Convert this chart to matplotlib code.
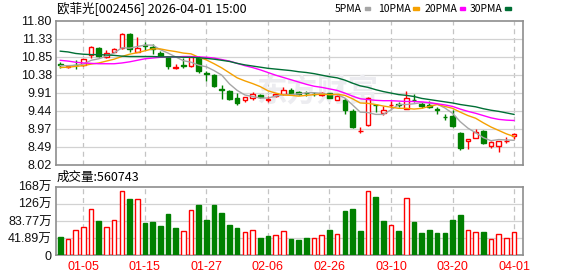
import numpy as np
import matplotlib.pyplot as plt
from matplotlib.patches import Rectangle

# ---- data (60 trading days, 2025-12-29 .. 2026-04-01) ----
open_ = [10.66, 10.58, 10.65, 10.65, 10.89, 11.09, 10.86, 10.98, 11.08, 11.46,
         10.99, 11.17, 11.12, 10.94, 10.84, 10.57, 10.65, 10.60, 10.82, 10.43,
         10.37, 10.00, 9.96, 9.78, 9.72, 9.78, 9.86, 9.73, 9.82, 9.87,
         9.97, 9.92, 9.91, 9.88, 9.84, 9.90, 9.73, 9.71, 9.44, 8.90,
         9.07, 9.60, 9.37, 9.58, 9.61, 9.49, 9.73, 9.62, 9.58, 9.49,
         9.27, 9.31, 8.85, 8.63, 8.72, 8.90, 8.52, 8.52, 8.64, 8.77]
high = [10.71, 10.63, 10.77, 10.80, 11.13, 11.12, 11.02, 11.08, 11.49, 11.47,
        11.36, 11.23, 11.20, 11.00, 10.86, 10.66, 10.82, 10.87, 10.88, 10.48,
        10.40, 10.10, 9.98, 9.90, 9.81, 9.92, 9.87, 9.82, 9.90, 10.06,
        10.04, 9.96, 9.96, 9.93, 9.94, 9.91, 9.85, 9.77, 9.48, 9.02,
        9.79, 9.61, 9.55, 9.70, 9.66, 9.95, 9.88, 9.67, 9.70, 9.54,
        9.35, 9.46, 8.89, 8.70, 8.96, 8.92, 8.63, 8.63, 8.75, 8.86]
low = [10.56, 10.55, 10.54, 10.62, 10.81, 10.86, 10.82, 10.97, 11.07, 10.98,
       10.97, 11.04, 10.92, 10.85, 10.53, 10.53, 10.56, 10.58, 10.44, 10.21,
       10.06, 9.74, 9.72, 9.60, 9.66, 9.71, 9.78, 9.66, 9.80, 9.86,
       9.90, 9.86, 9.83, 9.82, 9.82, 9.76, 9.72, 9.35, 8.98, 8.85,
       9.04, 9.40, 9.33, 9.51, 9.53, 9.48, 9.66, 9.51, 9.51, 9.35,
       9.20, 9.00, 8.40, 8.42, 8.71, 8.56, 8.47, 8.35, 8.58, 8.70]
close = [10.64, 10.62, 10.63, 10.79, 11.10, 10.87, 10.96, 11.05, 11.45, 11.07,
         11.08, 11.13, 11.05, 10.87, 10.62, 10.59, 10.60, 10.86, 10.49, 10.41,
         10.09, 9.98, 9.75, 9.63, 9.80, 9.88, 9.79, 9.74, 9.88, 9.99,
         9.91, 9.87, 9.90, 9.87, 9.90, 9.78, 9.83, 9.46, 9.00, 8.91,
         9.77, 9.58, 9.45, 9.60, 9.59, 9.77, 9.71, 9.57, 9.54, 9.45,
         9.26, 9.03, 8.46, 8.69, 8.88, 8.59, 8.62, 8.63, 8.65, 8.83]

ma5 = [10.62, 10.62, 10.63, 10.66, 10.76, 10.80, 10.87, 10.95, 11.09, 11.08,
       11.12, 11.16, 11.16, 11.04, 10.95, 10.85, 10.75, 10.71, 10.63, 10.59,
       10.49, 10.37, 10.14, 9.97, 9.85, 9.81, 9.77, 9.77, 9.82, 9.86,
       9.86, 9.88, 9.91, 9.91, 9.89, 9.86, 9.86, 9.77, 9.59, 9.40,
       9.39, 9.34, 9.34, 9.46, 9.60, 9.60, 9.62, 9.65, 9.64, 9.61,
       9.51, 9.37, 9.15, 8.98, 8.86, 8.73, 8.65, 8.68, 8.67, 8.66]
ma10 = [10.57, 10.58, 10.60, 10.62, 10.66, 10.69, 10.74, 10.79, 10.86, 10.92,
        10.96, 11.01, 11.06, 11.06, 11.02, 10.99, 10.95, 10.93, 10.84, 10.77,
        10.67, 10.56, 10.43, 10.30, 10.22, 10.15, 10.07, 9.96, 9.90, 9.85,
        9.84, 9.82, 9.84, 9.86, 9.87, 9.86, 9.87, 9.84, 9.75, 9.64,
        9.63, 9.60, 9.56, 9.53, 9.50, 9.50, 9.48, 9.50, 9.55, 9.60,
        9.55, 9.50, 9.40, 9.31, 9.24, 9.12, 9.01, 8.92, 8.83, 8.76]
ma20 = [10.76, 10.74, 10.71, 10.69, 10.68, 10.67, 10.67, 10.67, 10.69, 10.72,
        10.76, 10.80, 10.82, 10.84, 10.85, 10.85, 10.86, 10.86, 10.85, 10.84,
        10.82, 10.78, 10.74, 10.68, 10.62, 10.57, 10.51, 10.44, 10.37, 10.31,
        10.25, 10.19, 10.13, 10.08, 10.05, 10.01, 9.97, 9.90, 9.82, 9.75,
        9.73, 9.71, 9.70, 9.70, 9.69, 9.68, 9.68, 9.67, 9.65, 9.62,
        9.59, 9.55, 9.48, 9.42, 9.37, 9.31, 9.25, 9.21, 9.19, 9.18]
ma30 = [11.00, 10.98, 10.94, 10.92, 10.91, 10.91, 10.90, 10.89, 10.87, 10.86,
        10.86, 10.86, 10.86, 10.85, 10.85, 10.85, 10.84, 10.84, 10.83, 10.81,
        10.79, 10.76, 10.73, 10.68, 10.64, 10.61, 10.58, 10.55, 10.53, 10.51,
        10.49, 10.46, 10.44, 10.41, 10.37, 10.33, 10.30, 10.24, 10.16, 10.09,
        10.05, 9.99, 9.94, 9.90, 9.86, 9.84, 9.81, 9.76, 9.73, 9.70,
        9.67, 9.64, 9.60, 9.57, 9.54, 9.49, 9.45, 9.42, 9.38, 9.34]

# volume in 万 shares, and whether the volume bar is drawn red (1) or green (0)
volume = [44.7, 39.9, 61.8, 68.3, 112.2, 83.8, 68.3, 86.2, 156.2, 137.5,
          136.6, 78.9, 81.3, 71.6, 100.9, 66.7, 59.4, 110.6, 122.8, 86.2,
          122.8, 103.3, 74.0, 66.7, 56.9, 61.8, 42.3, 47.2, 49.6, 59.4,
          39.9, 37.4, 42.3, 42.3, 48.8, 61.8, 52.1, 108.2, 113.1, 59.4,
          156.2, 142.3, 84.6, 73.2, 59.4, 139.1, 82.2, 54.5, 61.8, 54.5,
          54.5, 86.2, 98.4, 61.8, 56.1, 56.9, 39.0, 51.2, 42.3, 56.07]
vol_up = [0, 1, 1, 1, 1, 0, 1, 1, 1, 0, 1, 0, 0, 0, 0, 0, 1, 1, 0, 0,
          0, 0, 0, 0, 1, 1, 0, 0, 1, 1, 0, 0, 0, 1, 1, 0, 1, 0, 0, 0,
          1, 0, 0, 1, 0, 1, 0, 0, 0, 0, 0, 0, 0, 1, 1, 0, 1, 1, 1, 1]

date_tick_idx = [3, 11, 19, 27, 35, 43, 51, 59]
date_tick_labels = ['01-05', '01-15', '01-27', '02-06', '02-26', '03-10', '03-20', '04-01']

price_ticks = [8.02, 8.4925, 8.965, 9.4375, 9.91, 10.3825, 10.855, 11.3275, 11.80]
price_labels = ['8.02', '8.49', '8.97', '9.44', '9.91', '10.38', '10.85', '11.33', '11.80']
vol_ticks = [0, 41.89, 83.78, 125.67, 167.56]
vol_labels = ['0', '41.89万', '83.77万', '126万', '168万']

title = '欧菲光[002456] 2026-04-01 15:00'
vol_title = '成交量:560743'
ma_names = ['5PMA', '10PMA', '20PMA', '30PMA']

# ---- style ----
RED = '#ff0000'
GREEN = '#008000'
MA_COLORS = ['#a6a6a6', '#f5a000', '#ff00ff', '#006f35']
GRID = '#d2d2d2'
FRAME = '#8e8e8e'
CJK = ['Noto Sans CJK SC', 'DejaVu Sans']
NUM = ['Liberation Sans', 'Noto Sans CJK SC']

W, H = 578, 276
fig = plt.figure(figsize=(W / 100, H / 100), dpi=100)


def fx(px):
    return px / W


def fy(py):
    return 1 - py / H


left, right = 56, 522.5
ax = fig.add_axes([fx(left), fy(164.7), (right - left) / W, (164.7 - 20.7) / H])
axv = fig.add_axes([fx(left), fy(255.3), (right - left) / W, (255.3 - 186.7) / H])

x = np.arange(len(close))
o = np.array(open_)
c = np.array(close)
up = c >= o

for a in (ax, axv):
    a.set_xlim(-0.56, 60.1)
    for s in a.spines.values():
        s.set_color(FRAME)
        s.set_linewidth(1.2)
    for t in date_tick_idx:
        a.axvline(t, color='#c4c4c4', ls=(0, (4, 3)), lw=0.9, zorder=0.8)
    a.tick_params(length=0, pad=3)

# ---- price panel ----
ax.set_ylim(8.02, 11.80)
ax.set_yticks(price_ticks)
ax.set_yticklabels(price_labels, fontsize=9, family=NUM, color='#111111')
ax.set_xticks([])
for t in price_ticks[1:-1]:
    ax.axhline(t, color=GRID, lw=0.9, zorder=0.8)

ax.text(0.56, 0.51, '东方财富', transform=ax.transAxes, ha='center', va='center',
        fontsize=22, color='#ececf0', family=CJK, fontweight='bold', zorder=0.9)

bw = 0.6
body_lo = np.minimum(o, c)
body_hi = np.maximum(o, c)
body_h = np.maximum(body_hi - body_lo, 0.008)
# wicks
ax.vlines(x[up], np.array(low)[up], body_lo[up], color=RED, lw=1, zorder=2)
ax.vlines(x[up], body_hi[up], np.array(high)[up], color=RED, lw=1, zorder=2)
ax.vlines(x[~up], np.array(low)[~up], np.array(high)[~up], color=GREEN, lw=1, zorder=2)
# bodies
ax.bar(x[up], body_h[up], bw, bottom=body_lo[up], facecolor='white',
       edgecolor=RED, lw=1, zorder=3)
ax.bar(x[~up], body_h[~up], bw, bottom=body_lo[~up], facecolor=GREEN,
       edgecolor=GREEN, lw=1, zorder=3)

for ma, col in zip([ma5, ma10, ma20, ma30], MA_COLORS):
    ax.plot(x, ma, color=col, lw=1, zorder=4)

# ---- volume panel ----
vup = np.array(vol_up) == 1
v = np.array(volume)
axv.set_ylim(0, 167.56)
axv.set_yticks(vol_ticks)
axv.set_yticklabels(vol_labels, fontsize=9, family=NUM, color='#111111')
for t in vol_ticks[1:-1]:
    axv.axhline(t, color=GRID, lw=0.9, zorder=0.8)
axv.bar(x[vup], v[vup], bw, facecolor='white', edgecolor=RED, lw=1, zorder=3)
axv.bar(x[~vup], v[~vup], bw, facecolor=GREEN, edgecolor=GREEN, lw=1, zorder=3)
axv.set_xticks(date_tick_idx)
axv.set_xticklabels(date_tick_labels, fontsize=9, family=NUM, color=RED)
axv.tick_params(axis='x', pad=4)

# ---- texts ----
fig.text(fx(57), fy(8.5), title, fontsize=9, family=CJK, ha='left', va='center')
fig.text(fx(57), fy(177.5), vol_title, fontsize=9, family=CJK, ha='left', va='center')

dash_x = [364.7, 413, 459.7, 505.3]
for name, col, dx in zip(ma_names, MA_COLORS, dash_x):
    fig.text(fx(dx - 2.5), fy(8.7), name, fontsize=7.5, family=CJK,
             ha='right', va='center')
    fig.patches.append(Rectangle((fx(dx), fy(10.2)), 5.5 / W, 3 / H,
                                 transform=fig.transFigure, color=col))

fig.savefig('out.png', dpi=100)
